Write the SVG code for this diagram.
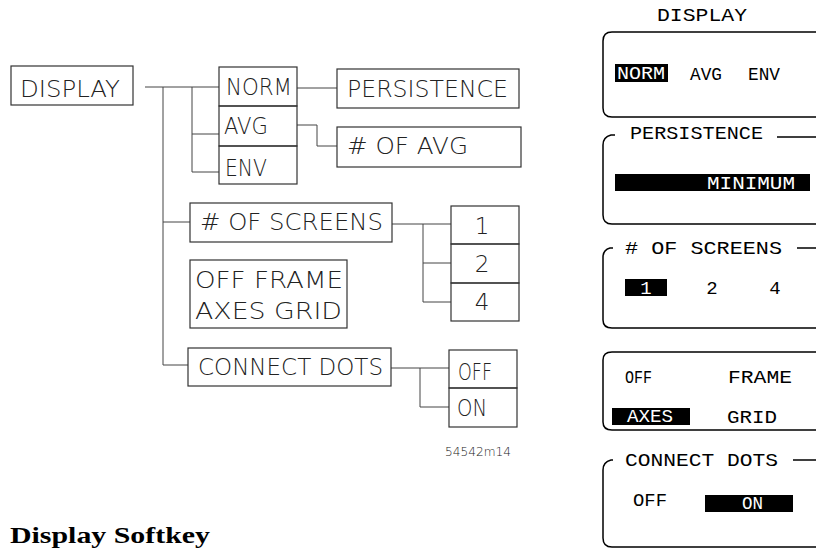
<svg xmlns="http://www.w3.org/2000/svg" width="816" height="549" viewBox="0 0 816 549">
<style>
.bx{fill:none;stroke:#333;stroke-width:1.2}
.cn{fill:none;stroke:#444;stroke-width:1}
.lt{font-family:"DejaVu Sans","Liberation Sans",sans-serif;font-weight:200;font-size:23px;fill:#222}
.pn{fill:none;stroke:#000;stroke-width:1.5}
.mt{font-family:"Liberation Mono","DejaVu Sans Mono",monospace;font-size:19px;fill:#000}
.inv{fill:#fff}
.hl{fill:#000}
.ttl{font-family:"Liberation Serif",serif;font-weight:bold;font-size:24px;fill:#000}
.code{font-family:"DejaVu Sans","Liberation Sans",sans-serif;font-weight:200;font-size:12px;fill:#222}
</style>
<rect width="816" height="549" fill="#fff"/>

<g id="connectors">
<path class="cn" d="M145 87H219"/>
<path class="cn" d="M163 87V365H188"/>
<path class="cn" d="M192 87V172H219M192 134H219"/>
<path class="cn" d="M297 88H337"/>
<path class="cn" d="M297 125H317V146H337"/>
<path class="cn" d="M163 222H190"/>
<path class="cn" d="M392 224H451M423 224V302H451M423 263H451"/>
<path class="cn" d="M391 368H449M420 368V407H449"/>
</g>

<g id="n-display"><rect class="bx" x="11" y="66" width="122" height="39"/><text class="lt" x="20" y="97" textLength="100" lengthAdjust="spacingAndGlyphs">DISPLAY</text></g>
<g id="n-norm"><rect class="bx" x="219" y="67" width="78" height="39"/><text class="lt" x="226" y="95" textLength="66" lengthAdjust="spacingAndGlyphs">NORM</text></g>
<g id="n-avg"><rect class="bx" x="219" y="106" width="78" height="40"/><text class="lt" x="224" y="134" textLength="44" lengthAdjust="spacingAndGlyphs">AVG</text></g>
<g id="n-env"><rect class="bx" x="219" y="146" width="78" height="38"/><text class="lt" x="225" y="176" textLength="42" lengthAdjust="spacingAndGlyphs">ENV</text></g>
<g id="n-persistence"><rect class="bx" x="337" y="69" width="182" height="39"/><text class="lt" x="347" y="97" textLength="161" lengthAdjust="spacingAndGlyphs">PERSISTENCE</text></g>
<g id="n-ofavg"><rect class="bx" x="337" y="127" width="184" height="40"/><text class="lt" x="347" y="154" textLength="121" lengthAdjust="spacingAndGlyphs"># OF AVG</text></g>
<g id="n-screens"><rect class="bx" x="190" y="203" width="202" height="39"/><text class="lt" x="200" y="230" textLength="183" lengthAdjust="spacingAndGlyphs"># OF SCREENS</text></g>
<g id="n-frame"><rect class="bx" x="190" y="260" width="157" height="68"/><text class="lt" x="195" y="288" textLength="148" lengthAdjust="spacingAndGlyphs">OFF FRAME</text><text class="lt" x="195" y="319" textLength="147" lengthAdjust="spacingAndGlyphs">AXES GRID</text></g>
<g id="n-connect"><rect class="bx" x="188" y="348" width="203" height="38"/><text class="lt" x="198" y="375" textLength="185" lengthAdjust="spacingAndGlyphs">CONNECT DOTS</text></g>
<g id="n-1"><rect class="bx" x="451" y="206" width="68" height="38"/><text class="lt" x="482" y="234" text-anchor="middle">1</text></g>
<g id="n-2"><rect class="bx" x="451" y="244" width="68" height="39"/><text class="lt" x="482" y="272" text-anchor="middle">2</text></g>
<g id="n-4"><rect class="bx" x="451" y="283" width="68" height="38"/><text class="lt" x="482" y="310" text-anchor="middle">4</text></g>
<g id="n-off"><rect class="bx" x="449" y="350" width="68" height="38"/><text class="lt" x="458" y="380" textLength="34" lengthAdjust="spacingAndGlyphs">OFF</text></g>
<g id="n-on"><rect class="bx" x="449" y="388" width="68" height="39"/><text class="lt" x="457" y="416" textLength="30" lengthAdjust="spacingAndGlyphs">ON</text></g>
<text class="code" x="445" y="456" textLength="66" lengthAdjust="spacingAndGlyphs">54542m14</text>

<g id="panel-display">
<text class="mt" x="657" y="21" textLength="90" lengthAdjust="spacingAndGlyphs">DISPLAY</text>
<path class="pn" d="M816 32H612Q603 32 603 41V108Q603 117 612 117H816"/>
<rect class="hl" x="615" y="64" width="53" height="18"/>
<text class="mt inv" x="617" y="79" textLength="48" lengthAdjust="spacingAndGlyphs">NORM</text>
<text class="mt" x="690" y="80" textLength="32" lengthAdjust="spacingAndGlyphs">AVG</text>
<text class="mt" x="748" y="80" textLength="32" lengthAdjust="spacingAndGlyphs">ENV</text>
</g>
<g id="panel-persistence">
<path class="pn" d="M615 135H611Q603 137 603 145V215Q603 224 612 224H816M777 137H816"/>
<text class="mt" x="630" y="139" textLength="133" lengthAdjust="spacingAndGlyphs">PERSISTENCE</text>
<rect class="hl" x="615" y="174" width="195" height="17"/>
<text class="mt inv" x="707" y="189" textLength="88" lengthAdjust="spacingAndGlyphs">MINIMUM</text>
</g>
<g id="panel-screens">
<path class="pn" d="M613 248H610Q603 250 603 257V320Q603 328 612 328H816M797 248H816"/>
<text class="mt" x="625" y="254" textLength="157" lengthAdjust="spacingAndGlyphs"># OF SCREENS</text>
<rect class="hl" x="625" y="279" width="42" height="17"/>
<text class="mt inv" x="646" y="294" text-anchor="middle">1</text>
<text class="mt" x="712" y="294" text-anchor="middle">2</text>
<text class="mt" x="775" y="294" text-anchor="middle">4</text>
</g>
<g id="panel-frame">
<path class="pn" d="M816 352H612Q603 352 603 360V422Q603 430 612 430H816"/>
<text class="mt" x="625" y="383" textLength="27" lengthAdjust="spacingAndGlyphs">OFF</text>
<text class="mt" x="728" y="383" textLength="64" lengthAdjust="spacingAndGlyphs">FRAME</text>
<rect class="hl" x="612" y="408" width="78" height="17"/>
<text class="mt inv" x="627" y="422" textLength="46" lengthAdjust="spacingAndGlyphs">AXES</text>
<text class="mt" x="727" y="423" textLength="50" lengthAdjust="spacingAndGlyphs">GRID</text>
</g>
<g id="panel-connect">
<path class="pn" d="M613 460H611Q603 462 603 470V538Q603 547 612 547H816M793 460H816"/>
<text class="mt" x="625" y="466" textLength="153" lengthAdjust="spacingAndGlyphs">CONNECT DOTS</text>
<text class="mt" x="633" y="506" textLength="34" lengthAdjust="spacingAndGlyphs">OFF</text>
<rect class="hl" x="705" y="495" width="88" height="17"/>
<text class="mt inv" x="742" y="509" textLength="21" lengthAdjust="spacingAndGlyphs">ON</text>
</g>

<text class="ttl" x="10" y="543" textLength="200" lengthAdjust="spacingAndGlyphs">Display Softkey</text>
</svg>
